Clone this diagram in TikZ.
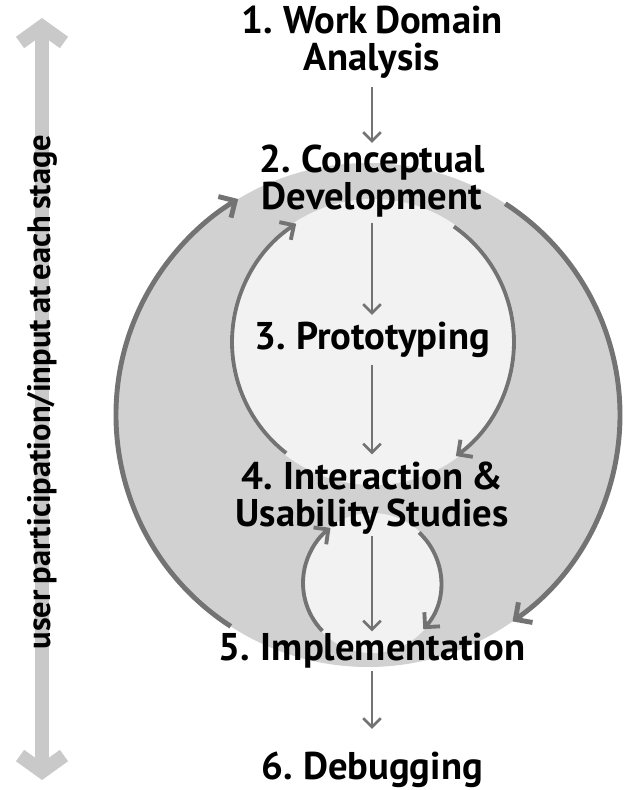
\documentclass[tikz,border=0pt]{standalone}
\usepackage{fontspec}
\setmainfont{PT Sans}[WordSpace=0.75]
\usetikzlibrary{arrows.meta}
\definecolor{arrowgray}{gray}{0.45}
\definecolor{ringgray}{gray}{0.82}
\definecolor{holegray}{gray}{0.95}
\definecolor{sidegray}{gray}{0.79}

\begin{document}
\begin{tikzpicture}[x=0.02cm,y=0.02cm]
	\tikzset{stage/.style = {align=center,font=\bfseries\fontsize{22}{21}\selectfont,inner sep=1pt}}
	\tikzset{flow/.style = {draw=arrowgray,line width=1.5pt,-{Straight Barb[length=5pt,width=10pt]}}}
	\tikzset{backflow/.style = {draw=arrowgray,line width=2.2pt,-{Straight Barb[length=6pt,width=12pt]}}}
	\tikzset{bigflow/.style = {draw=arrowgray,line width=2.8pt,-{Straight Barb[length=7pt,width=14pt]}}}
	\tikzset{sidearrow/.style = {draw=sidegray,line width=8pt,{Straight Barb[length=9pt,width=25pt]}-{Straight Barb[length=9pt,width=25pt]}}}
	\useasboundingbox (0,0) rectangle (623,-790);
	% discs
	\coordinate (outer) at (368,-415);
	\coordinate (inner) at (373,-342);
	\coordinate (lower) at (372,-583);
	\fill[ringgray] (outer) circle[radius=252];
	\fill[holegray] (inner) circle[radius=143];
	\fill[holegray] (lower) circle[radius=70];
	% stages
	\node[stage] (wda) at (372,-42) {1. Work Domain\\Analysis};
	\node[stage] (cd) at (372,-181) {2. Conceptual\\Development};
	\node[stage] (proto) at (372,-340) {3. Prototyping};
	\node[stage] (ius) at (372,-498) {4. Interaction \&\\Usability Studies};
	\node[stage] (impl) at (372,-651) {5. Implementation};
	\node[stage] (debug) at (372,-770) {6. Debugging};
	%edges
	\draw[flow,shorten <=4pt] (wda) -- (cd);
	\draw[flow,shorten <=2pt,shorten >=3pt] (cd) -- (proto);
	\draw[flow,shorten <=3pt,shorten >=3pt] (proto) -- (ius);
	\draw[flow] (ius) -- (impl);
	\draw[flow,shorten >=12pt] (impl) -- (debug);
	% loops
	\path (outer) ++(237:252) coordinate (ol);
	\path (outer) ++(57:252) coordinate (or);
	\path (inner) ++(232:141) coordinate (il);
	\path (inner) ++(55:141) coordinate (ir);
	\path (lower) ++(224:69) coordinate (ll);
	\path (lower) ++(47:69) coordinate (lr);
	\draw[bigflow] (ol) arc[start angle=237,end angle=121,radius=252];
	\draw[bigflow] (or) arc[start angle=57,end angle=-55,radius=252];
	\draw[backflow] (il) arc[start angle=232,end angle=123,radius=141];
	\draw[backflow] (ir) arc[start angle=55,end angle=-54,radius=141];
	\draw[backflow] (ll) arc[start angle=224,end angle=127,radius=69];
	\draw[backflow] (lr) arc[start angle=47,end angle=-42,radius=69];
	% user participation
	\coordinate (sidetop) at (42,-18);
	\coordinate (sidebot) at (42,-780);
	\draw[sidearrow] (sidetop) -- (sidebot);
	\node[rotate=90,font=\bfseries\fontsize{18.5}{18.5}\selectfont] (side) at (42,-392) {user participation/input at each stage};
\end{tikzpicture}
\end{document}
